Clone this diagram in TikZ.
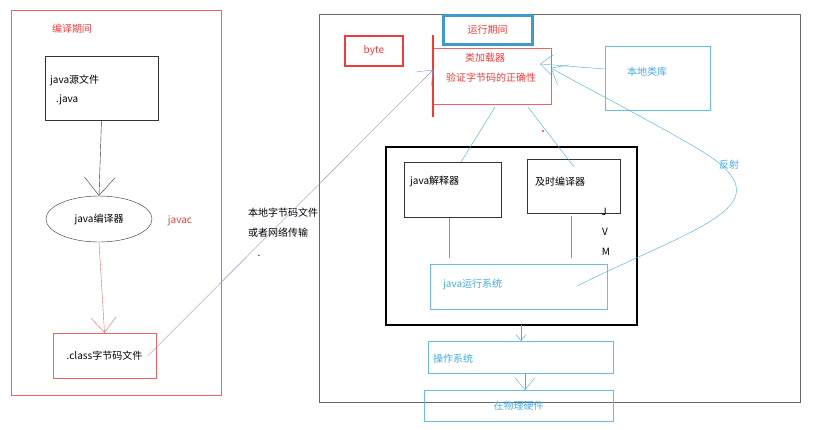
\documentclass[tikz,border=0pt]{standalone}
\usepackage{fontspec}
\setmainfont{Noto Sans CJK SC}
\usetikzlibrary{arrows.meta,shapes,positioning,calc}
\definecolor{jred}{RGB}{236,60,60}
\definecolor{jblue}{RGB}{70,170,225}
\definecolor{jpurple}{RGB}{150,140,215}
\tikzset{
  txt/.style={font=\fontsize{10}{12}\selectfont, inner sep=0pt},
  rbox/.style={draw=jred!80, thin},
  bbox/.style={draw=jblue!80, thin},
  kbox/.style={draw=black!80, thin},
  barb/.style={-{Straight Barb[length=#1,width=2.6*#1,angle'=80]}},
}
\begin{document}
\begin{tikzpicture}[x=1pt,y=-1pt]
		\useasboundingbox (0,0) rectangle (825,429);
		% compile time
		\draw[rbox] (11,10) rectangle (221,395);
		\node[txt, text=jred] (ct) at (72,29) {编译期间};
		\node[kbox, minimum width=113, minimum height=64] (src) at (101.5,88) {};
		\node[txt, anchor=west] (srct) at (50,80) {java源文件};
		\node[txt, anchor=west] (srcj) at (56,100) {.java};
		\node[kbox, ellipse, minimum width=106, minimum height=46] (jc) at (99,219) {};
		\node[txt] at (jc) {java编译器};
		\node[txt, text=jred] (javac) at (180,221) {javac};
		\node[rbox, minimum width=103, minimum height=45, txt] (cls) at (104.5,355.5) {.class字节码文件};
		\draw[black!80, barb=18pt] (src.south) -- (jc.north);
		\draw[jred!80, barb=15pt] (jc.south) -- (cls.north);
		% transfer
		\node[txt, anchor=west] (t1) at (248,213) {本地字节码文件};
		\node[txt, anchor=west] (t2) at (248,233) {或者网络传输};
		\node[txt] (t3) at (259,256) {.};
		% run time
		\draw[black!60, thin] (319,14) rectangle (800,402);
		\node[draw=jred, line width=2pt, minimum width=58, minimum height=30, txt, text=jred] (byte) at (374,51) {byte};
		\node[draw=jblue!90!black, line width=3pt, minimum width=89, minimum height=29, txt, text=jred] (rt) at (487.5,30) {运行期间};
		\node[rbox, minimum width=118, minimum height=56] (cl) at (492,76) {};
		\node[txt, text=jred] (clt) at (485,58) {类加载器};
		\node[txt, text=jred] (clv) at (491,78) {验证字节码的正确性};
		\coordinate (bar) at (433,70);
		\draw[jred, line width=2pt] (433,35) -- (433,117);
		\node[bbox, minimum width=105, minimum height=64] (lib) at (657.5,78) {};
		\node[txt, text=jblue] (libt) at (647,72) {本地类库};
		\draw[jpurple, barb=12pt] ($(cls.east)+(-8,0)$) -- (bar);
		\draw[jblue, barb=12pt] (lib.west |- 0,69) -- (540,64);
		% JVM
		\draw[black, line width=2pt] (386,147) rectangle (637,325);
		\node[kbox, minimum width=97, minimum height=55] (itp) at (452.5,189.5) {};
		\node[txt, anchor=west] at (410,182) {java解释器};
		\node[kbox, minimum width=93, minimum height=54] (jit) at (573.5,186) {};
		\node[txt, anchor=west] at (535,182) {及时编译器};
		\node[txt] (j) at (604,212) {J};
		\node[txt] (v) at (605,232) {V};
		\node[txt] (m) at (606,252) {M};
		\fill[jred] (543,131) circle (1.2);
		\node[bbox, minimum width=177, minimum height=45] (jrs) at (518.5,286.5) {};
		\node[txt, text=jblue, anchor=west] at (443,284) {java运行系统};
		\draw[jblue] (495,107) -- (461,162);
		\draw[jblue] (528,107) -- (574,167);
		\draw[jblue] (449,218) -- (449,258);
		\draw[jblue] (571,216) -- (571,258);
		% reflection
		\draw[jblue, barb=14pt] (577,286) .. controls (700,225) and (790,205) .. (700,150) .. controls (640,115) and (590,90) .. (551,68);
		\node[txt, text=jblue] (refl) at (729,165) {反射};
		% os and hardware
		\node[bbox, minimum width=185, minimum height=32] (os) at (520.5,357) {};
		\node[txt, text=jblue, anchor=west] at (433,359) {操作系统};
		\node[bbox, minimum width=189, minimum height=31, txt, text=jblue] (hw) at (518.5,405.5) {在物理硬件};
		\draw[jblue, barb=6pt] (521,325) -- (521,341);
		\draw[jblue, barb=12pt] (525,373) -- (525,390);
\end{tikzpicture}
\end{document}
